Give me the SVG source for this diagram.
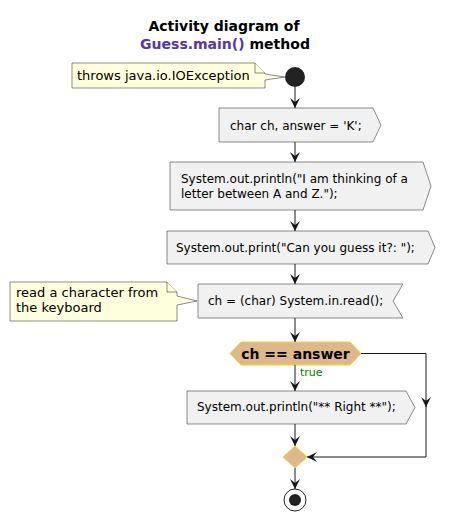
<svg xmlns="http://www.w3.org/2000/svg" width="456" height="520" viewBox="0 0 456 520">
<defs>
<style>
text{font-family:"DejaVu Sans","Liberation Sans",sans-serif;fill:#000}
.t{font-size:14px;font-weight:bold}
.a{font-size:12px}
.n{font-size:13px}
.act{fill:#F1F1F1;stroke:#181818;stroke-width:0.5}
.note{fill:#FEFFDD;stroke:#181818;stroke-width:0.5}
.dec{fill:#DEB887;stroke:#F1D23F;stroke-width:1}
.ln{fill:none;stroke:#181818;stroke-width:1}
</style>
<marker id="ar" viewBox="0 0 12 12" refX="10" refY="6" markerWidth="12" markerHeight="12" markerUnits="userSpaceOnUse" orient="auto">
<path d="M0,1 L10,6 L0,11 L4,6 Z" fill="#181818"/>
</marker>
</defs>
<g id="title">
<text class="t" x="224" y="31" text-anchor="middle">Activity diagram of</text>
<text class="t" x="225" y="49" text-anchor="middle"><tspan fill="#5533BB">Guess.main()</tspan> method</text>
</g>
<g id="start"><circle cx="295" cy="77" r="10" fill="#222"/></g>
<g id="note1">
<path class="note" d="M72,63 L255,63 L265,73 L265,74 L285,77 L265,80 L265,88 L72,88 Z"/>
<path class="note" d="M255,63 L255,73 L265,73"/>
<text class="n" x="77" y="80">throws java.io.IOException</text>
</g>
<g id="a1">
<path class="act" d="M219,108 L373,108 L381,125 L373,142 L219,142 Z"/>
<text class="a" x="230" y="130">char ch, answer = 'K';</text>
</g>
<g id="a2">
<path class="act" d="M170,162 L423,162 L431,186 L423,210 L170,210 Z"/>
<text class="a" x="181" y="183">System.out.println("I am thinking of a</text>
<text class="a" x="181" y="198">letter between A and Z.");</text>
</g>
<g id="a3">
<path class="act" d="M167,231 L428,231 L435,247.5 L428,264 L167,264 Z"/>
<text class="a" x="176" y="252">System.out.print("Can you guess it?: ");</text>
</g>
<g id="a4">
<path class="act" d="M198,284 L403,284 L393,301 L403,318 L198,318 Z"/>
<text class="a" x="208" y="305">ch = (char) System.in.read();</text>
</g>
<g id="note2">
<path class="note" d="M10,282 L167,282 L177,292 L177,296 L197,301 L177,305 L177,321 L10,321 Z"/>
<path class="note" d="M167,282 L167,292 L177,292"/>
<text class="n" x="16" y="297">read a character from</text>
<text class="n" x="16" y="312">the keyboard</text>
</g>
<g id="decision">
<path class="dec" d="M230,353.5 L241,342 L350,342 L361,353.5 L350,365 L241,365 Z"/>
<text class="t" x="295.5" y="359" text-anchor="middle">ch == answer</text>
</g>
<g id="a5">
<path class="act" d="M187,391 L406,391 L415,407.5 L406,424 L187,424 Z"/>
<text class="a" x="197" y="411">System.out.println("** Right **");</text>
</g>
<g id="merge"><path class="dec" d="M295,446 L307,457 L295,468 L283,457 Z"/></g>
<g id="end">
<circle cx="295" cy="500" r="11" fill="none" stroke="#222" stroke-width="1"/>
<circle cx="295" cy="500" r="6" fill="#222"/>
</g>
<g id="connectors">
<path class="ln" d="M295,87 L295,108" marker-end="url(#ar)"/>
<path class="ln" d="M295,142 L295,162" marker-end="url(#ar)"/>
<path class="ln" d="M295,210 L295,231" marker-end="url(#ar)"/>
<path class="ln" d="M295,264 L295,284" marker-end="url(#ar)"/>
<path class="ln" d="M295,318 L295,342" marker-end="url(#ar)"/>
<path class="ln" d="M295,365 L295,391" marker-end="url(#ar)"/>
<text x="300" y="376" style="font-size:11px;fill:#008000">true</text>
<path class="ln" d="M361,353.5 L426,353.5 L426,407" marker-end="url(#ar)"/>
<path class="ln" d="M426,400 L426,457 L307,457" marker-end="url(#ar)"/>
<path class="ln" d="M295,424 L295,446" marker-end="url(#ar)"/>
<path class="ln" d="M295,468 L295,489" marker-end="url(#ar)"/>
</g>
</svg>
